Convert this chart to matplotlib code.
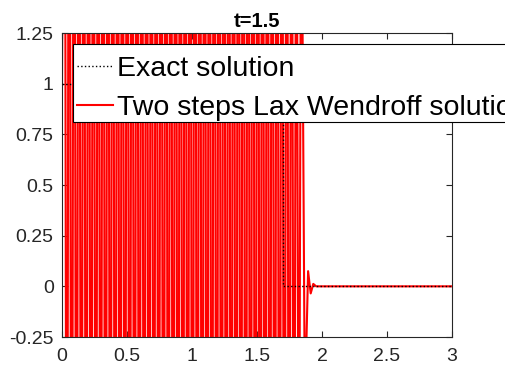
import numpy as np
import matplotlib
matplotlib.use("Agg")
import matplotlib.pyplot as plt
from matplotlib.patches import Rectangle

plt.rcParams['font.family'] = ['Liberation Sans', 'DejaVu Sans']

# Exact solution (step moved to x = 1.7)
x_exact = [0.0, 1.7, 1.7, 3.0]
u_exact = [1.0, 1.0, 0.0, 0.0]

# Two steps Lax-Wendroff numerical solution: strongly oscillating part
x_osc_start, x_osc_end = 0.0, 1.84
u_osc = [1.00, 4.1, -3.0, 4.3, -3.2, 4.4, -3.3, 4.5, -3.4, 4.6,
         -3.5, 4.6, -3.5, 4.7, -3.6, 4.7, -3.6, 4.8, -3.7, 4.8,
         -3.7, 4.9, -3.8, 4.9, -3.8, 5.0, -3.9, 5.0, -3.9, 5.1,
         -4.0, 5.1, -4.0, 5.2, -4.1, 5.2, -4.1, 5.3, -4.2, 5.3,
         -4.2, 5.4, -4.3, 5.4, -4.3, 5.5, -4.4, 5.5, -4.4, 5.6,
         -4.5, 5.6, -4.5, 5.7, -4.6, 5.7, -4.6, 5.8, -4.7, 5.8,
         -4.7, 5.9, -4.8, 5.9, -4.8, 6.0, -4.9, 6.0, -4.9, 6.1,
         -5.0, 6.1, -5.0, 6.2, -5.1, 6.2, -5.1, 6.2, -5.1, 6.1,
         -5.0, 6.0, -4.9, 5.8, -4.7, 5.6, -4.5, 5.3, -4.2, 5.0,
         -3.9, 4.6, -3.5, 4.1, -3.0, 3.6, -2.5, 3.0, -1.9, 2.4]
# tail after the front
x_tail = [1.868, 1.893, 1.913, 1.933, 1.955, 3.0]
u_tail = [-0.6, 0.075, -0.035, 0.012, 0.0, 0.0]

x_osc = np.linspace(x_osc_start, x_osc_end, len(u_osc))
x_num = np.concatenate([x_osc, x_tail])
u_num = np.concatenate([u_osc, u_tail])

fig = plt.figure(figsize=(5.05, 3.69), dpi=100)
ax = fig.add_axes([62/505, (369-337)/369, 390/505, 304/369])

l_num, = ax.plot(x_num, u_num, color='red', lw=1.5, zorder=2,
                 label='Two steps Lax Wendroff solution')
l_ex, = ax.plot(x_exact, u_exact, color='black', lw=1.0, ls=':', zorder=3,
                label='Exact solution')

ax.set_xlim(0, 3)
ax.set_ylim(-0.25, 1.25)
ax.set_xticks([0, 0.5, 1, 1.5, 2, 2.5, 3])
ax.set_xticklabels(['0', '0.5', '1', '1.5', '2', '2.5', '3'])
ax.set_yticks([-0.25, 0, 0.25, 0.5, 0.75, 1, 1.25])
ax.set_yticklabels(['-0.25', '0', '0.25', '0.5', '0.75', '1', '1.25'])

axc = '#262626'
for s in ax.spines.values():
    s.set_color(axc)
    s.set_linewidth(0.8)
ax.tick_params(direction='in', length=4, width=0.8, color=axc,
               labelsize=14, labelcolor=axc, top=True, right=True)
ax.tick_params(axis='x', pad=8)
ax.tick_params(axis='y', pad=6)

ax.set_title('t=1.5', fontsize=14.5, fontweight='bold', pad=4)

# legend frame (extends past the figure's right edge, as in the original)
frame = Rectangle((0.0282, 0.7072), 1.3, 0.2566, transform=ax.transAxes,
                  clip_on=False, facecolor='white', edgecolor='black',
                  linewidth=0.8, zorder=4)
ax.add_patch(frame)

leg = ax.legend(handles=[l_ex, l_num], loc='upper left',
                bbox_to_anchor=(0.0385, 0.9256), borderaxespad=0,
                fontsize=20.5, frameon=False, handlelength=1.26,
                handletextpad=0.14, borderpad=0.0, labelspacing=0.47)
leg.set_zorder(5)

fig.savefig('out.png', dpi=100)
